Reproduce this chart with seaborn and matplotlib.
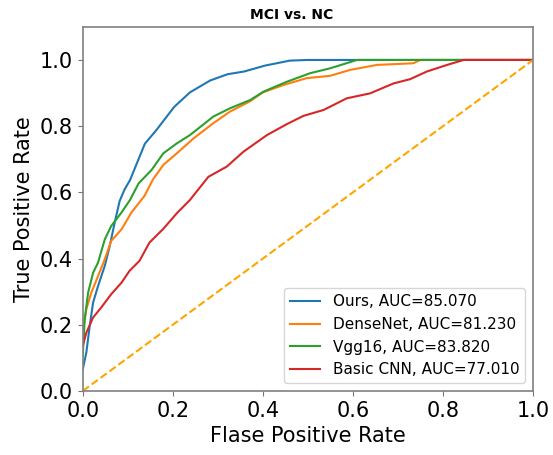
import numpy as np
import pandas as pd
import matplotlib
matplotlib.use("Agg")
import matplotlib.pyplot as plt
import seaborn as sns

# ROC 값
ours_fpr = [0, 0.008, 0.0155, 0.023, 0.034, 0.049, 0.06, 0.071, 0.082, 0.093, 0.105, 0.138,
            0.164, 0.203, 0.238, 0.283, 0.322, 0.358, 0.405, 0.46, 0.50, 1.0]
ours_tpr = [0.065, 0.116, 0.196, 0.267, 0.317, 0.378, 0.438, 0.509, 0.574, 0.609, 0.637, 0.747,
            0.789, 0.858, 0.902, 0.938, 0.957, 0.965, 0.983, 0.998, 1.0, 1.0]

dense_fpr = [0, 0.008, 0.019, 0.034, 0.049, 0.063, 0.086, 0.108, 0.137, 0.156, 0.179, 0.209,
             0.246, 0.29, 0.327, 0.37, 0.40, 0.445, 0.497, 0.549, 0.594, 0.653, 0.734, 0.75, 1.0]
dense_tpr = [0.176, 0.247, 0.297, 0.347, 0.398, 0.453, 0.488, 0.539, 0.589, 0.639, 0.683, 0.718,
             0.763, 0.809, 0.844, 0.874, 0.902, 0.924, 0.945, 0.952, 0.97, 0.985, 0.99, 1.0, 1.0]

vgg_fpr = [0, 0.0044, 0.012, 0.023, 0.034, 0.049, 0.063, 0.086, 0.105, 0.124, 0.153, 0.179,
           0.209, 0.238, 0.29, 0.327, 0.372, 0.401, 0.453, 0.505, 0.55, 0.609, 1.0]
vgg_tpr = [0.106, 0.217, 0.297, 0.357, 0.388, 0.458, 0.498, 0.539, 0.577, 0.627, 0.668, 0.718,
           0.748, 0.773, 0.829, 0.854, 0.879, 0.904, 0.934, 0.96, 0.975, 1.0, 1.0]

cnn_fpr = [0, 0.008, 0.023, 0.041, 0.063, 0.086, 0.104, 0.126, 0.148, 0.179, 0.209, 0.238,
           0.279, 0.32, 0.357, 0.409, 0.453, 0.49, 0.535, 0.586, 0.638, 0.69, 0.727, 0.764,
           0.809, 0.846, 1.0]
cnn_tpr = [0.136, 0.176, 0.222, 0.252, 0.292, 0.327, 0.363, 0.393, 0.448, 0.490, 0.537, 0.577,
           0.647, 0.678, 0.723, 0.773, 0.806, 0.831, 0.849, 0.884, 0.899, 0.929, 0.942, 0.965,
           0.985, 1.0, 1.0]

labels = ["Ours, AUC=85.070", "DenseNet, AUC=81.230", "Vgg16, AUC=83.820", "Basic CNN, AUC=77.010"]
colors = ["#1f77b4", "#ff7f0e", "#2ca02c", "#d62728"]

curves = [(ours_fpr, ours_tpr), (dense_fpr, dense_tpr), (vgg_fpr, vgg_tpr), (cnn_fpr, cnn_tpr)]

fig = plt.figure(figsize=(5.53, 4.55), dpi=100)
ax = fig.add_axes([0.1496, 0.1407, 0.8144, 0.8003])

for (fpr, tpr), lab, c in zip(curves, labels, colors):
    df = pd.DataFrame({"fpr": fpr, "tpr": tpr})
    sns.lineplot(data=df, x="fpr", y="tpr", ax=ax, color=c, label=lab,
                 sort=False, estimator=None, linewidth=1.5)

# 대각선 (랜덤)
diag = pd.DataFrame({"fpr": [0, 1], "tpr": [0, 1]})
sns.lineplot(data=diag, x="fpr", y="tpr", ax=ax, color="orange", linestyle="--",
             linewidth=1.5, legend=False)

ax.set_xlim(0, 1.0)
ax.set_ylim(0, 1.1)
ax.set_xticks([0, 0.2, 0.4, 0.6, 0.8, 1.0])
ax.set_yticks([0, 0.2, 0.4, 0.6, 0.8, 1.0])
ax.tick_params(labelsize=15, color="#777777")
for sp in ax.spines.values():
    sp.set_color("#808080")
    sp.set_linewidth(1.2)
ax.set_xlabel("Flase Positive Rate", fontsize=15)
ax.set_ylabel("True Positive Rate", fontsize=15)
ax.set_title("MCI vs. NC", fontsize=10, fontweight="bold", x=0.464)
ax.legend(loc="lower right", fontsize=11)

fig.savefig("out.png", dpi=100)
